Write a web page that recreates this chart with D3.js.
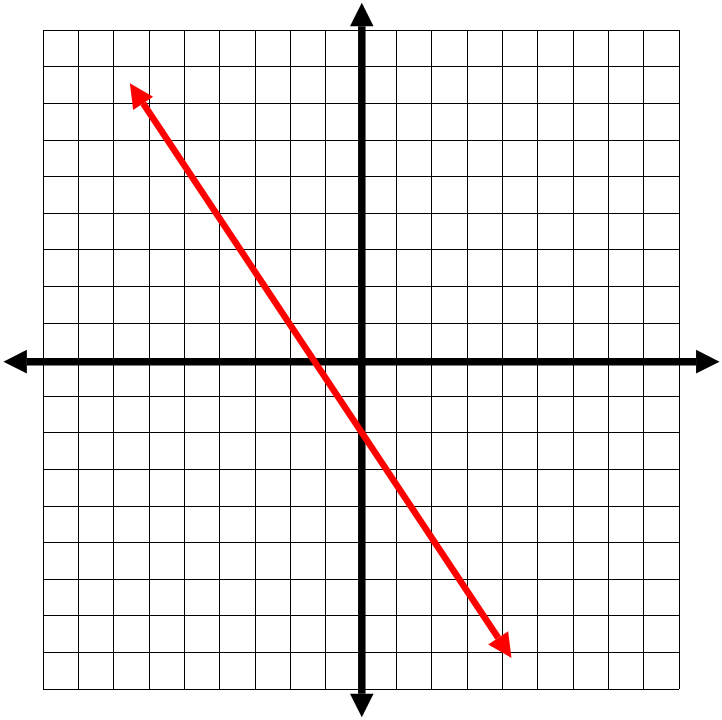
<!DOCTYPE html>
<html>
<head>
<meta charset="utf-8">
<script src="https://cdn.jsdelivr.net/npm/d3@7"></script>
<style>
  html, body { margin: 0; padding: 0; background: #fff; }
  svg { display: block; }
</style>
</head>
<body>
<svg id="chart"></svg>
<script>
// grid goes from -9 to 9 on both axes
const xDomain = [-9, 9];
const yDomain = [-9, 9];
// axis arrows reach a bit past the grid
const xAxisEnds = [-10.13, 10.14];
const yAxisEnds = [-9.77, 9.75];
// red line endpoints (arrow tips)
const lineX = [-6.55, 4.25];
const lineY = [7.55, -8.15];

function drawGraph(svgSelector, width, height) {
    const svg = d3.select(svgSelector)
        .attr("width", width)
        .attr("height", height)
        .attr("viewBox", `0 0 ${width} ${height}`);

    svg.selectAll("*").remove();

    const x = d3.scaleLinear().domain(xDomain).range([43.3, 679.3]);
    const y = d3.scaleLinear().domain(yDomain).range([689, 30.3]);

    const xs = d3.range(xDomain[0], xDomain[1] + 1);
    const ys = d3.range(yDomain[0], yDomain[1] + 1);

    // grid lines
    const grid = svg.append("g")
        .attr("stroke", "#000")
        .attr("stroke-width", 1)
        .attr("shape-rendering", "crispEdges");

    grid.selectAll(".vx")
        .data(xs)
        .enter().append("line")
        .attr("x1", d => x(d)).attr("x2", d => x(d))
        .attr("y1", y(yDomain[0])).attr("y2", y(yDomain[1]));

    grid.selectAll(".hy")
        .data(ys)
        .enter().append("line")
        .attr("y1", d => y(d)).attr("y2", d => y(d))
        .attr("x1", x(xDomain[0])).attr("x2", x(xDomain[1]));

    // line with arrow heads at both ends
    function arrowLine(p1, p2, color, strokeW, headLen, headHalf) {
        const dx = p2[0] - p1[0], dy = p2[1] - p1[1];
        const len = Math.hypot(dx, dy);
        const ux = dx / len, uy = dy / len;
        const px = -uy, py = ux;
        const b1 = [p1[0] + ux * headLen, p1[1] + uy * headLen];
        const b2 = [p2[0] - ux * headLen, p2[1] - uy * headLen];

        svg.append("line")
            .attr("x1", b1[0]).attr("y1", b1[1])
            .attr("x2", b2[0]).attr("y2", b2[1])
            .attr("stroke", color)
            .attr("stroke-width", strokeW);

        const heads = [
            [p1, b1],
            [p2, b2]
        ];
        svg.selectAll(null)
            .data(heads)
            .enter().append("polygon")
            .attr("points", d => {
                const tip = d[0], base = d[1];
                return [
                    tip,
                    [base[0] + px * headHalf, base[1] + py * headHalf],
                    [base[0] - px * headHalf, base[1] - py * headHalf]
                ].map(p => p.join(",")).join(" ");
            })
            .attr("fill", color);
    }

    // axes
    arrowLine([x(xAxisEnds[0]), y(0) + 2], [x(xAxisEnds[1]), y(0) + 2], "#000", 7.5, 23.5, 11.8);
    arrowLine([x(0) + 0.5, y(yAxisEnds[1])], [x(0) + 0.5, y(yAxisEnds[0])], "#000", 7.5, 23.5, 11.8);

    // the red line
    arrowLine([x(lineX[0]), y(lineY[0])], [x(lineX[1]), y(lineY[1])], "#ff0000", 6.5, 24, 12);
}

drawGraph("#chart", 722, 720);
</script>
</body>
</html>
